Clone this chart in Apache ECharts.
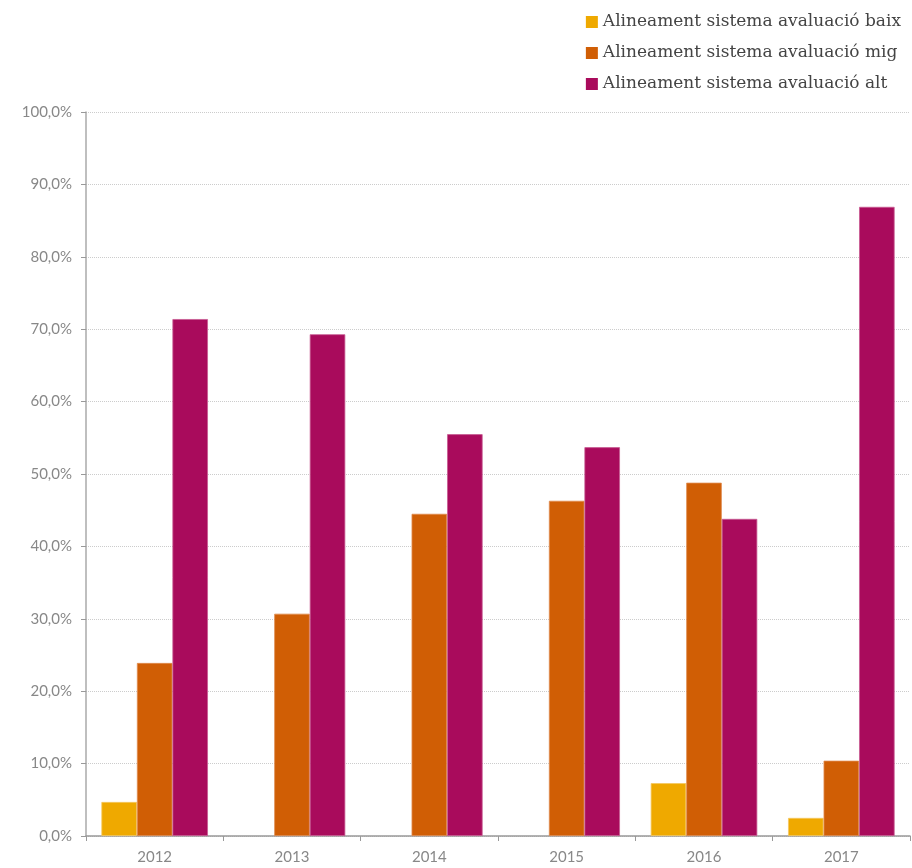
<!DOCTYPE html>
<html>
<head>
<meta charset="utf-8">
<script src="https://cdn.jsdelivr.net/npm/echarts@6/dist/echarts.min.js"></script>
<style>html,body{margin:0;padding:0;background:#fff}#c{width:912px;height:868px}</style>
</head>
<body>
<div id="c"></div>
<script>
var categories = ['2012', '2013', '2014', '2015', '2016', '2017'];
var seriesNames = ['Alineament sistema avaluació baix', 'Alineament sistema avaluació mig', 'Alineament sistema avaluació alt'];
var baix = [4.7, null, null, null, 7.3, 2.5];
var mig = [23.9, 30.7, 44.5, 46.3, 48.8, 10.4];
var alt = [71.4, 69.3, 55.5, 53.7, 43.8, 86.9];
var colors = ['#EFA900', '#D05E05', '#A90B5C'];
var borders = ['#F5C860', '#E08A4E', '#C85A92'];

var chart = echarts.init(document.getElementById('c'));
var values = [baix, mig, alt];
chart.setOption({
  animation: false,
  color: colors,
  grid: { left: 86, right: 2, top: 112, bottom: 32, containLabel: false },
  legend: {
    orient: 'vertical',
    right: 6,
    top: 7,
    itemWidth: 12,
    itemHeight: 12,
    itemGap: 11,
    icon: 'rect',
    itemStyle: { borderWidth: 0 },
    textStyle: { fontFamily: 'DejaVu Serif', fontSize: 17, color: '#444', lineHeight: 20 },
    data: seriesNames
  },
  xAxis: {
    type: 'category',
    data: categories,
    axisLine: { lineStyle: { color: '#999', width: 1.5 } },
    axisTick: { show: true, length: 5, lineStyle: { color: '#999' } },
    axisLabel: { color: '#888', fontFamily: 'Lato', fontSize: 15, margin: 14 }
  },
  yAxis: {
    type: 'value',
    min: 0,
    max: 100,
    interval: 10,
    axisLine: { show: true, lineStyle: { color: '#aaa', width: 1.5 } },
    axisTick: { show: true, length: 5, lineStyle: { color: '#999' } },
    splitLine: { lineStyle: { color: '#ccc', type: 'dotted' } },
    axisLabel: {
      color: '#888', fontFamily: 'Lato', fontSize: 15, margin: 14,
      formatter: function (v) { return v.toFixed(1).replace('.', ',') + '%'; }
    }
  },
  series: seriesNames.map(function (n, i) {
    return {
      name: n,
      type: 'bar',
      data: values[i],
      barGap: '0%',
      barCategoryGap: '22.4%',
      itemStyle: { color: colors[i], borderColor: borders[i], borderWidth: 0.8 }
    };
  })
});
</script>
</body>
</html>
